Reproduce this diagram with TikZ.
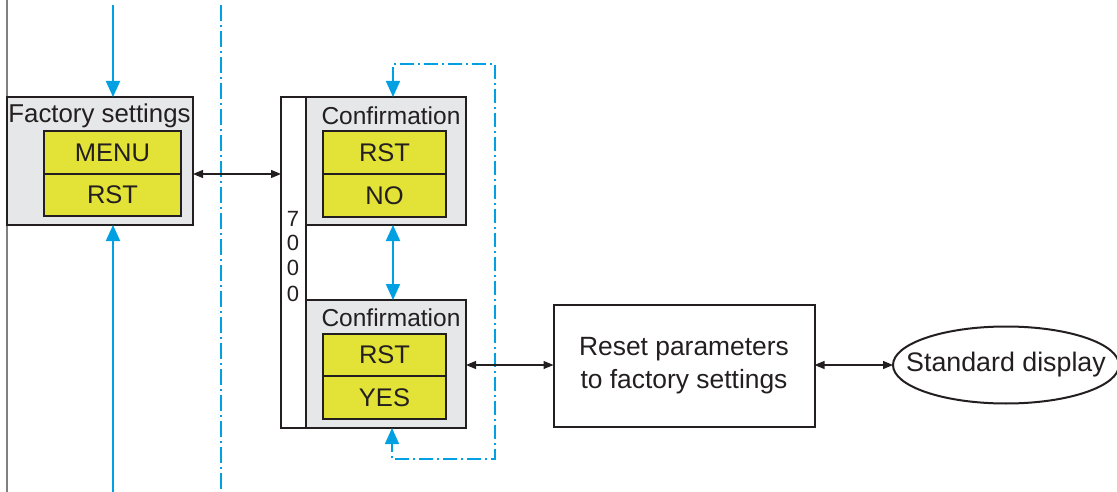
\documentclass[tikz,border=0pt]{standalone}
\usepackage{fontspec}
\setmainfont{Liberation Sans}
\usetikzlibrary{arrows.meta,shapes.geometric}
\definecolor{boxgray}{RGB}{230,231,232}
\definecolor{dispyellow}{RGB}{226,226,55}
\definecolor{flowblue}{RGB}{0,160,227}
\definecolor{inkdark}{RGB}{35,31,32}
\tikzset{
  panel/.style={draw=inkdark,line width=2pt,fill=boxgray,rectangle,inner sep=0pt,outer sep=0pt},
  disp/.style={draw=inkdark,line width=1.3pt,fill=dispyellow,rectangle,inner sep=0pt,outer sep=0pt,font=\fontsize{25.5}{28}\selectfont,text=inkdark},
  ttl/.style={inner sep=0pt,font=\fontsize{24.5}{28}\selectfont,text=inkdark},
  plain/.style={draw=inkdark,line width=2pt,fill=white,inner sep=0pt,outer sep=0pt},
  blk/.style={draw=inkdark,line width=1.2pt,{Triangle[length=10pt,width=8pt]}-{Triangle[length=10pt,width=8pt]}},
  bluarr/.style={draw=flowblue,line width=2pt,-{Triangle[length=16pt,width=14pt]}},
  bluedd/.style={draw=flowblue,line width=1.6pt,dash pattern=on 14pt off 4pt on 2pt off 4pt},
  digit/.style={inner sep=0pt,font=\fontsize{22}{24}\selectfont,text=inkdark}
}
\begin{document}
\begin{tikzpicture}[x=1pt,y=-1pt]
\useasboundingbox (0,0) rectangle (1117,492);
% left gray line
\coordinate (gt) at (7,0);
\coordinate (gb) at (7,492);
\draw[gray,line width=1.6pt] (gt) -- (gb);
% dash-dot separator
\coordinate (st) at (221,5);
\coordinate (sb) at (221,492);
\draw[flowblue,line width=1.1pt,dash pattern=on 16pt off 4pt on 2pt off 4pt] (st) -- (sb);

% Factory settings panel
\node[panel,minimum width=186pt,minimum height=128pt] (fs) at (100,161) {};
\node[ttl,font=\fontsize{25.8}{28}\selectfont] (fst) at (99.5,116) {Factory settings};
\node[disp,minimum width=137pt,minimum height=43pt] (fsm) at (112.5,152.5) {MENU};
\node[disp,minimum width=137pt,minimum height=42pt] (fsr) at (112.5,195) {RST};

% 7000 strip
\node[plain,minimum width=25pt,minimum height=331pt] (n7) at (293.5,262.5) {};
\node[digit] (d1) at (293,219) {7};
\node[digit] (d2) at (293,243) {0};
\node[digit] (d3) at (293,268) {0};
\node[digit] (d4) at (293,294) {0};

% Confirmation NO
\node[panel,minimum width=160pt,minimum height=128pt] (c1) at (386,161) {};
\node[ttl] (c1t) at (391,116) {Confirmation};
\node[disp,minimum width=123pt,minimum height=43pt] (c1r) at (384.5,152.5) {RST};
\node[disp,minimum width=123pt,minimum height=43pt] (c1n) at (384.5,195.5) {NO};

% Confirmation YES
\node[panel,minimum width=160pt,minimum height=128pt] (c2) at (386,364) {};
\node[ttl] (c2t) at (391,318) {Confirmation};
\node[disp,minimum width=123pt,minimum height=42pt] (c2r) at (384.5,355) {RST};
\node[disp,minimum width=123pt,minimum height=43pt] (c2y) at (384.5,397.5) {YES};

% Reset box
\node[plain,minimum width=261pt,minimum height=122pt,align=center,font=\fontsize{26.4}{33}\selectfont,text=inkdark] (rs) at (684,366) {Reset parameters\\to factory settings};

% Standard display
\node[ellipse,draw=inkdark,line width=2pt,fill=white,minimum width=226pt,minimum height=77pt,inner xsep=-20pt,inner ysep=0pt,outer sep=0pt,font=\fontsize{26.8}{30}\selectfont,text=inkdark] (sd) at (1006,365) {Standard display};

% blue arrows into factory settings
\coordinate (ft) at (113,5);
\coordinate (fb) at (113,492);
\draw[bluarr] (ft) -- (ft |- fs.north);
\draw[bluarr] (fb) -- (fb |- fs.south);

% between confirmations
\draw[bluarr,{Triangle[length=16pt,width=14pt]}-{Triangle[length=16pt,width=14pt]}] ([xshift=7pt]c1.south) -- ([xshift=7pt]c2.north);

% dash-dot loop
\coordinate (lt) at (495,64);
\coordinate (lb) at (495,459);
\draw[bluedd,{Triangle[length=16pt,width=14pt]}-{Triangle[length=16pt,width=14pt]}] ([xshift=7pt]c1.north) -- ([xshift=7pt]c1.north |- lt) -- (lt) -- (lb) -- ([xshift=6pt]c2.south |- lb) -- ([xshift=6pt]c2.south);

% black double arrows
\draw[blk] ([yshift=-13pt]fs.east) -- ([yshift=-13pt]fs.east -| n7.west);
\draw[blk] ([yshift=-1pt]c2.east) -- ([yshift=-1pt]c2.east -| rs.west);
\draw[blk] (rs.east |- sd.west) -- (sd.west);
\end{tikzpicture}
\end{document}
